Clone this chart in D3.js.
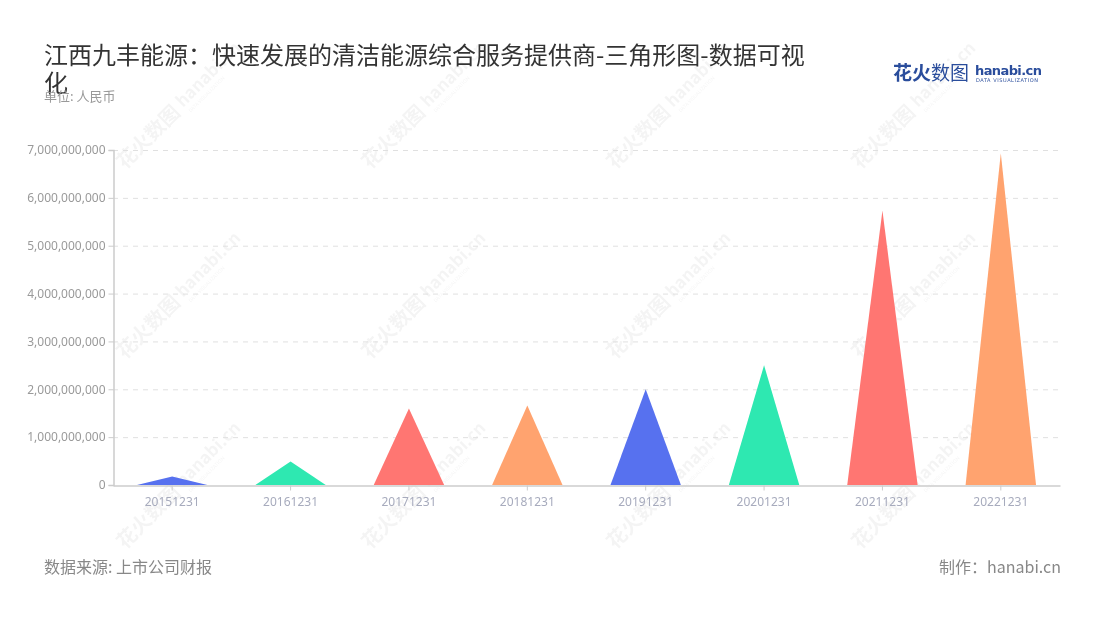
<!DOCTYPE html>
<html><head><meta charset="utf-8">
<script src="https://cdn.jsdelivr.net/npm/d3@7"></script>
<style>
html,body{margin:0;padding:0;background:#fff;}
svg{display:block;font-family:"Noto Sans CJK SC","Noto Sans",sans-serif;}
</style></head>
<body><svg id="c" width="1100" height="620"></svg>
<script>
const categories = ["20151231","20161231","20171231","20181231","20191231","20201231","20211231","20221231"];
const values = [180000000, 490000000, 1600000000, 1660000000, 2000000000, 2500000000, 5730000000, 6930000000];
const colors = ["#5771ef","#2ee8b1","#ff7672","#ffa36f"];
const yTicks = [0,1e9,2e9,3e9,4e9,5e9,6e9,7e9];
const titleLines = ["江西九丰能源：快速发展的清洁能源综合服务提供商-三角形图-数据可视","化"];
const unitText = "单位: 人民币";
const sourceText = "数据来源: 上市公司财报";
const makerText = "制作：hanabi.cn";

const svg = d3.select("#c");
const M = {left:113, right:1060, top:150, bottom:485};

// watermarks
const wm = svg.append("g").attr("opacity",0.045);
[185,430,675,920].forEach(cx=>{
  [110,300,490].forEach(cy=>{
    const g = wm.append("g").attr("transform",`translate(${cx},${cy}) rotate(-45)`);
    g.append("text").attr("x",-5).attr("y",0).attr("text-anchor","end")
      .attr("font-size",20).attr("font-weight",700).attr("fill","#000").text("花火数图");
    g.append("text").attr("x",0).attr("y",-3).attr("text-anchor","start")
      .attr("font-size",17).attr("font-weight",700).attr("fill","#000").text("hanabi.cn");
    g.append("text").attr("x",2).attr("y",6).attr("text-anchor","start")
      .attr("font-size",5).attr("fill","#000").text("DATA VISUALIZATION");
  });
});

const x = d3.scaleBand().domain(categories).range([M.left,M.right]).padding(0);
const y = d3.scaleLinear().domain([0,7e9]).range([M.bottom,M.top]);

// grid
svg.append("g").selectAll("line").data(yTicks.filter(d=>d>0)).join("line")
  .attr("x1",M.left).attr("x2",M.right)
  .attr("y1",d=>y(d)+0.5).attr("y2",d=>y(d)+0.5)
  .attr("stroke","#e0e0e0").attr("stroke-dasharray","5,5");

// y axis
const ya = svg.append("g").attr("transform",`translate(${M.left+0.5},0)`)
  .call(d3.axisLeft(y).tickValues(yTicks).tickFormat(d3.format(",")).tickSize(5).tickPadding(3));
ya.select(".domain").attr("stroke","#ccc").attr("stroke-width",1.5);
ya.selectAll(".tick line").attr("stroke","#ccc");
ya.selectAll(".tick text").attr("fill","#9a9a9a").attr("font-size",12)
  .attr("font-family","'Noto Sans','Noto Sans CJK SC',sans-serif");

// triangles
const tw = x.bandwidth()*0.595;
svg.append("g").selectAll("path").data(values).join("path")
  .attr("d",(d,i)=>{
    const cx = x(categories[i]) + x.bandwidth()/2;
    return `M${cx-tw/2},${y(0)} L${cx},${y(d)} L${cx+tw/2},${y(0)} Z`;
  })
  .attr("fill",(d,i)=>colors[i%colors.length]);

// x axis
const xa = svg.append("g").attr("transform",`translate(0,${M.bottom+0.5})`)
  .call(d3.axisBottom(x).tickSize(5).tickPadding(7).tickSizeOuter(0));
xa.select(".domain").attr("stroke","#ccc").attr("stroke-width",1.5);
xa.selectAll(".tick line").attr("stroke","#ccc");
xa.selectAll(".tick text").attr("fill","#a7abbd").attr("font-size",12)
  .attr("font-family","'Noto Sans','Noto Sans CJK SC',sans-serif");

// title
svg.append("g").selectAll("text").data(titleLines).join("text")
  .attr("x",44).attr("y",(d,i)=>64+i*28)
  .attr("font-size",24).attr("fill","#333").text(d=>d);
svg.append("text").attr("x",44).attr("y",101).attr("font-size",13).attr("fill","#999").text(unitText);

// logo
const lg = svg.append("g");
lg.append("text").attr("x",893).attr("y",80).attr("font-size",19).attr("font-weight",700)
  .attr("fill","#2a4d9c").text("花火");
lg.append("text").attr("x",931).attr("y",80).attr("font-size",19)
  .attr("fill","#2a4d9c").text("数图");
lg.append("text").attr("x",975).attr("y",75).attr("font-size",13).attr("font-weight",700)
  .attr("fill","#2a4d9c").attr("font-family","'DejaVu Sans',sans-serif").attr("letter-spacing",-0.6).text("hanabi.cn");
lg.append("text").attr("x",976).attr("y",81.5).attr("font-size",5)
  .attr("fill","#2a4d9c").attr("font-family","'DejaVu Sans',sans-serif").attr("letter-spacing",0.55).text("DATA VISUALIZATION");

// footer
svg.append("text").attr("x",44).attr("y",573).attr("font-size",16).attr("fill","#888").text(sourceText);
svg.append("text").attr("x",1061).attr("y",573).attr("text-anchor","end").attr("font-size",16).attr("fill","#888").text(makerText);
</script></body></html>
